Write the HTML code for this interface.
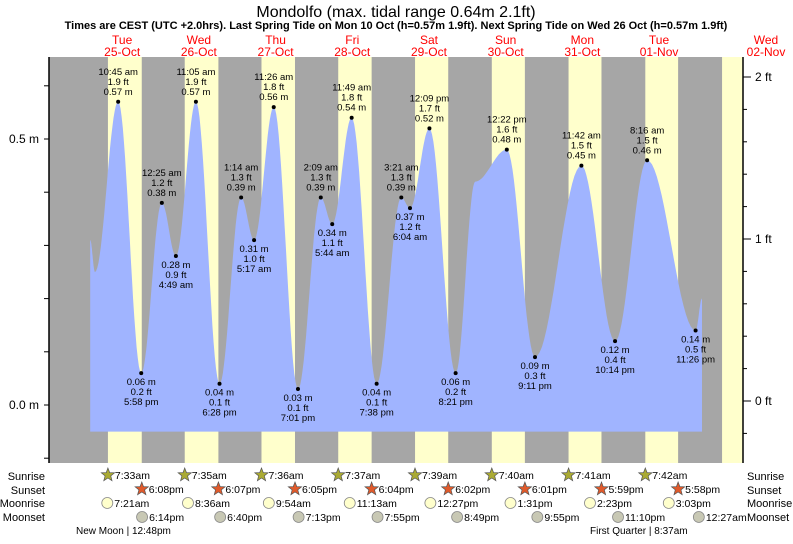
<!DOCTYPE html>
<html><head><meta charset="utf-8">
<style>
body{margin:0;background:#fff;width:793px;height:539px;overflow:hidden;font-family:"Liberation Sans",sans-serif}
svg text{font-family:"Liberation Sans",sans-serif}
</style></head><body>
<svg id="chart" width="793" height="539" viewBox="0 0 793 539" xmlns="http://www.w3.org/2000/svg">
<text x="396" y="17" font-size="16" text-anchor="middle">Mondolfo (max. tidal range 0.64m 2.1ft)</text>
<text x="396" y="29" font-size="11" font-weight="bold" text-anchor="middle">Times are CEST (UTC +2.0hrs). Last Spring Tide on Mon 10 Oct (h=0.57m 1.9ft). Next Spring Tide on Wed 26 Oct (h=0.57m 1.9ft)</text>
<g id="bg"></g><g id="tide"></g><g id="marks"></g><g id="axes"></g><g id="astro"></g>
</svg>
<script>
const dayNames=["Tue","Wed","Thu","Fri","Sat","Sun","Mon","Tue","Wed"];
const dayDates=["25-Oct","26-Oct","27-Oct","28-Oct","29-Oct","30-Oct","31-Oct","01-Nov","02-Nov"];
const sunrise=["7:33am","7:35am","7:36am","7:37am","7:39am","7:40am","7:41am","7:42am","7:43am"];
const sunset=["6:08pm","6:07pm","6:05pm","6:04pm","6:02pm","6:01pm","5:59pm","5:58pm"];
const moonrise=["7:21am","8:36am","9:54am","11:13am","12:27pm","1:31pm","2:23pm","3:03pm"];
const moonset=["6:14pm","6:40pm","7:13pm","7:55pm","8:49pm","9:55pm","11:10pm","12:27am"];
const moonsetDay=[0,1,2,3,4,5,6,8];
const tideTime=["2:00 am","3:30 am","10:45 am","5:58 pm","12:25 am","4:49 am","11:05 am","6:28 pm","1:14 am","5:17 am","11:26 am","7:01 pm","2:09 am","5:44 am","11:49 am","7:38 pm","3:21 am","6:04 am","12:09 pm","8:21 pm","2:30 am","12:22 pm","9:11 pm","11:42 am","10:14 pm","8:16 am","11:26 pm","1:40 am"];
const tideM=[0.31,0.25,0.57,0.06,0.38,0.28,0.57,0.04,0.39,0.31,0.56,0.03,0.39,0.34,0.54,0.04,0.39,0.37,0.52,0.06,0.42,0.48,0.09,0.45,0.12,0.46,0.14,0.20];
const tideFt=["","","1.9","0.2","1.2","0.9","1.9","0.1","1.3","1.0","1.8","0.1","1.3","1.1","1.8","0.1","1.3","1.2","1.7","0.2","","1.6","0.3","1.5","0.4","1.5","0.5",""];
const tideDayIdx=[0,0,0,0,1,1,1,1,2,2,2,2,3,3,3,3,4,4,4,4,5,5,5,6,6,7,7,8];
const NS="http://www.w3.org/2000/svg";
const X0=83.8, DW=76.7, PL=49, PR=743, PT=57, PB=463;
function xT(d){return X0+d*DW;}
function yM(m){return 405-m*532;}
function yF(f){return 401-f*162;}
function tod(s){const m=s.match(/(\d+):(\d+)\s*(am|pm)/);let h=+m[1]%12;if(m[3]=="pm")h+=12;return (h+ +m[2]/60)/24;}
function el(tag,a,parent,txt){const e=document.createElementNS(NS,tag);for(const k in a)e.setAttribute(k,a[k]);if(txt!==undefined)e.textContent=txt;document.getElementById(parent).appendChild(e);return e;}
let r=el("rect",{x:PL,y:PT,width:PR-PL,height:PB-PT,fill:"#a6a6a6"},"bg");

for(let i=0;i<9;i++){
 const x1=xT(i+tod(sunrise[i]));const x2=i<8?xT(i+tod(sunset[i])):PR;
 const b=el("rect",{x:x1,y:PT,width:Math.min(x2,PR)-x1,height:PB-PT,fill:"#ffffcc"},"bg");
 
 const cx=i<8?xT(i+0.5):766;
 const t1=el("text",{x:cx,y:44,"font-size":12,fill:"#ff0000","text-anchor":"middle"},"bg",dayNames[i]);
 
 const t2=el("text",{x:cx,y:56,"font-size":12,fill:"#ff0000","text-anchor":"middle"},"bg",dayDates[i]);
 
}
const tX=tideTime.map((t,i)=>{if(i==tideTime.length-1)return 702;return xT(tideDayIdx[i]+tod(t));});
let d="M"+tX[0].toFixed(1)+","+yM(-0.05)+" L"+tX[0].toFixed(1)+","+yM(tideM[0]).toFixed(1);
for(let i=0;i<tX.length-1;i++){
 for(let k=1;k<=20;k++){const f=k/20;const v=tideM[i]+(tideM[i+1]-tideM[i])*(1-Math.cos(Math.PI*f))/2;
 d+=" L"+(tX[i]+(tX[i+1]-tX[i])*f).toFixed(1)+","+yM(v).toFixed(1);}
}
d+=" L"+tX[tX.length-1]+","+yM(-0.05)+" Z";
const p=el("path",{d:d,fill:"#a0b4ff"},"tide");

for(let i=2;i<tX.length-1;i++){
 if(tideFt[i]==="")continue;
 const x=tX[i],y=yM(tideM[i]);
 const hi=(tideM[i]>tideM[i-1]);
 const c=el("circle",{cx:x,cy:y,r:2,fill:"#000"},"marks");
 
 const lines=hi?[tideTime[i],tideFt[i]+" ft",tideM[i].toFixed(2)+" m"]:[tideM[i].toFixed(2)+" m",tideFt[i]+" ft",tideTime[i]];
 lines.forEach((s,j)=>{const yy=hi?y-27+j*10:y+12+j*10;
  const t=el("text",{x:x,y:yy,"font-size":9.5,"text-anchor":"middle",fill:"#000"},"marks",s);
  });
}
el("line",{x1:PL,y1:PT,x2:PL,y2:PB,stroke:"#000","stroke-width":1.5},"axes");
el("line",{x1:PR,y1:PT,x2:PR,y2:PB,stroke:"#000","stroke-width":1.5},"axes");
const mTicks=[-0.1,0,0.1,0.2,0.3,0.4,0.5,0.6];
mTicks.forEach(m=>{el("line",{x1:PL-5,y1:yM(m),x2:PL,y2:yM(m),stroke:"#000"},"axes");});
["0.0 m","0.5 m"].forEach((s,i)=>{const t=el("text",{x:PL-10,y:yM(i*0.5)+4,"font-size":12,"text-anchor":"end"},"axes",s);});
for(let f=-0.2;f<=2.01;f+=0.2){el("line",{x1:PR,y1:yF(f),x2:PR+(Math.abs(f-Math.round(f))<0.01?8:4),y2:yF(f),stroke:"#000"},"axes");}
["0 ft","1 ft","2 ft"].forEach((s,i)=>{const t=el("text",{x:PR+12,y:yF(i)+4,"font-size":12},"axes",s);});
const rows=[["Sunrise",476],["Sunset",490],["Moonrise",503],["Moonset",517]];
rows.forEach(([n,y])=>{
 let a=el("text",{x:45,y:y+4,"font-size":11,"text-anchor":"end"},"astro",n);
 a=el("text",{x:747,y:y+4,"font-size":11},"astro",n);
});
function star(cx,cy,fill,name,label){
 let pts=[];for(let k=0;k<10;k++){const rr=k%2?3:7;const a=-Math.PI/2+k*Math.PI/5;pts.push((cx+rr*Math.cos(a)).toFixed(1)+","+(cy+rr*Math.sin(a)).toFixed(1));}
 const s=el("polygon",{points:pts.join(" "),fill:fill,stroke:"#555","stroke-width":0.7},"astro");
 
 const t=el("text",{x:cx+7,y:cy+4,"font-size":10.5},"astro",label);
}
function moon(cx,cy,fill,name,label){
 const c=el("circle",{cx:cx,cy:cy,r:5.5,fill:fill,stroke:"#888","stroke-width":0.8},"astro");
 
 const t=el("text",{x:cx+7,y:cy+4,"font-size":10.5},"astro",label);
}
for(let i=0;i<8;i++){
 star(xT(i+tod(sunrise[i])),475,"#aaaa33","sunrise",sunrise[i]);
 star(xT(i+tod(sunset[i])),489,"#e05a2b","sunset",sunset[i]);
 moon(xT(i+tod(moonrise[i])),503,"#ffffcc","moonrise",moonrise[i]);
 moon(xT(moonsetDay[i]+tod(moonset[i])),517,"#c8c8b4","moonset",moonset[i]);
}
let ph=el("text",{x:76,y:534,"font-size":10},"astro","New Moon | 12:48pm");
ph=el("text",{x:590,y:534,"font-size":10},"astro","First Quarter | 8:37am");
</script>
</body></html>
